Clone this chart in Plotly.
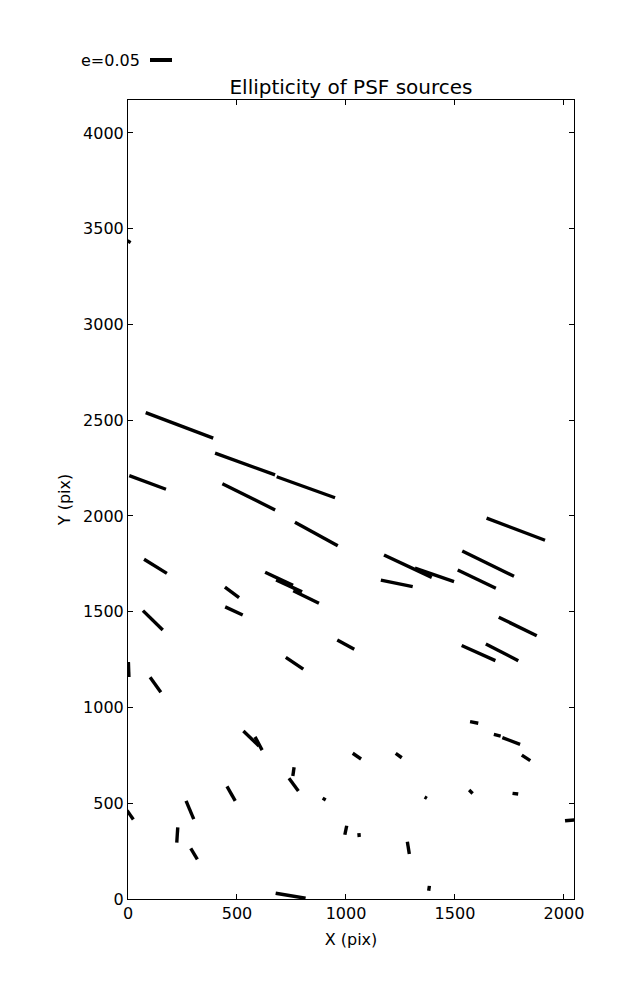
import math
import plotly.graph_objects as go

# Source centres (pix), ellipticity and position angle (deg)
x_pos = [236, 537, 816, 90, 554, 864, 1779, 1284, 1406, 1233, 1652, 1600,
         126, 477, 486, 114, 693, 739, 817, 999, 764, 1788, 1608, 1716,
         3, 126, 565, 599, 759, 760, 900, 473, 284, 10, 226, 303, 746,
         999, 1060, 1242, 1050, 1588, 1694, 1758, 1826, 1366, 1573, 1777,
         2030, 1286, 1381, 5]
y_pos = [2473, 2271, 2150, 2175, 2100, 1906, 1931, 1738, 1692, 1648, 1751, 1670,
         1737, 1601, 1504, 1455, 1672, 1635, 1577, 1328, 1231, 1423, 1284, 1288,
         1198, 1119, 838, 812, 665, 597, 522, 550, 465, 439, 334, 236, 17,
         359, 334, 749, 746, 922, 855, 825, 737, 529, 560, 550,
         411, 267, 56, 3432]
ellip = [0.164, 0.145, 0.141, 0.089, 0.134, 0.111, 0.142, 0.120, 0.094, 0.074, 0.131, 0.096,
         0.061, 0.040, 0.044, 0.063, 0.070, 0.065, 0.065, 0.044, 0.048, 0.096, 0.084, 0.083,
         0.034, 0.042, 0.049, 0.034, 0.020, 0.036, 0.008, 0.038, 0.045, 0.025, 0.035, 0.029, 0.069,
         0.021, 0.009, 0.017, 0.023, 0.019, 0.016, 0.043, 0.023, 0.006, 0.011, 0.013,
         0.025, 0.028, 0.011, 0.008]
angle = [-20.7, -19.9, -19.8, -20.3, -26.5, -28.7, -20.7, -25.1, -19.0, -11.8, -26.1, -25.5,
         -31.7, -36.6, -25.1, -44.4, -25.2, -24.8, -26.1, -28.7, -34.3, -25.8, -24.1, -27.3,
         -88.0, -54.5, -43.7, -61.7, 82.0, -53.8, -30.0, -60.5, -67.2, -55.0, 86.3, -59.0, -9.5,
         78.4, -85.0, -36.0, -34.5, -10.9, -14.0, -20.4, -33.5, -30.0, -44.0, -7.0,
         5.0, -80.8, 82.0, -30.0]

key_e = 0.05
key_label = "e=0.05"
x_ticks = [0, 500, 1000, 1500, 2000]
y_ticks = [0, 500, 1000, 1500, 2000, 2500, 3000, 3500, 4000]
x_range = [0, 2046]
y_range = [0, 4172]

W, H = 637, 1000
OFF = 8  # page body margin offset
ml, mr, mt, mb = 128 - OFF, 63 + OFF, 100 - OFF, 101 + OFF
pw, ph = W - ml - mr, H - mt - mb
px_x = pw / (x_range[1] - x_range[0])
px_y = ph / (y_range[1] - y_range[0])
scale_px = 440.0  # screen pixels per unit ellipticity


def paper_x(sx):
    return (sx - OFF - ml) / pw


def paper_y(sy):
    return (H - mb - (sy - OFF)) / ph


xs, ys = [], []
for x, y, e, a in zip(x_pos, y_pos, ellip, angle):
    hl = e * scale_px / 2
    t = math.radians(a)
    dx = hl * math.cos(t) / px_x
    dy = hl * math.sin(t) / px_y
    xs += [x - dx, x + dx, None]
    ys += [y - dy, y + dy, None]

fig = go.Figure()
fig.add_trace(go.Scatter(x=xs, y=ys, mode="lines",
                         line=dict(color="black", width=3.4),
                         hoverinfo="skip", showlegend=False))

font = dict(family="DejaVu Sans", color="black", size=16)
axis_common = dict(showline=True, linecolor="black", linewidth=1, mirror="ticks",
                   ticks="inside", ticklen=5, tickcolor="black", showgrid=False,
                   zeroline=False, tickfont=font)

fig.update_layout(
    width=W, height=H, autosize=False,
    margin=dict(l=ml, r=mr, t=mt, b=mb),
    paper_bgcolor="white", plot_bgcolor="white",
    font=font,
    title=dict(text="Ellipticity of PSF sources", x=(ml + pw / 2) / W, xanchor="center",
               y=1 - (87 - OFF) / H, yanchor="middle",
               font=dict(family="DejaVu Sans", size=20, color="black")),
    xaxis=dict(range=x_range, tickvals=x_ticks, title=dict(text="X (pix)", font=font, standoff=11),
               **axis_common),
    yaxis=dict(range=y_range, tickvals=y_ticks, title=dict(text="Y (pix)", font=font, standoff=8),
               **axis_common),
)

key_y = paper_y(60)
key_x0 = paper_x(150)
key_len = key_e * scale_px / pw
fig.add_shape(type="line", xref="paper", yref="paper", x0=key_x0, x1=key_x0 + key_len,
              y0=key_y, y1=key_y, line=dict(color="black", width=4))
fig.add_annotation(text=key_label, xref="paper", yref="paper", x=paper_x(142), y=key_y,
                   xanchor="right", yanchor="middle", showarrow=False, font=font)

fig.write_html("out.html")
